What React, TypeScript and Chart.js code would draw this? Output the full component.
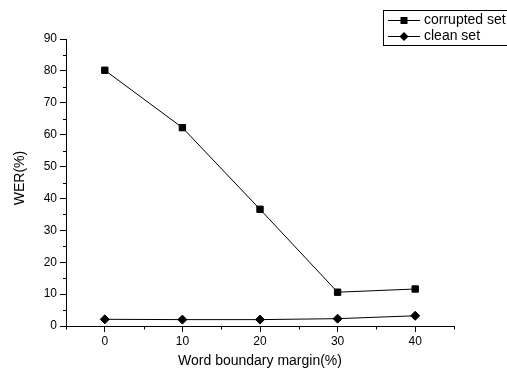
import React, { useEffect, useRef } from "react";
import { Chart, registerables } from "chart.js";

Chart.register(...registerables);

const margins = [0, 10, 20, 30, 40];
const corruptedSet = [80.2, 62.2, 36.6, 10.6, 11.6];
const cleanSet = [2.1, 2.0, 2.0, 2.3, 3.2];
const seriesLabels = ["corrupted set", "clean set"];
const xTickLabels = ["0", "10", "20", "30", "40"];
const yTickLabels = ["0", "10", "20", "30", "40", "50", "60", "70", "80", "90"];
const xTitle = "Word boundary margin(%)";
const yTitle = "WER(%)";

const FONT = "Arial, 'Liberation Sans', Helvetica, sans-serif";

const isMinor = (v: number) => Math.round(v) % 10 !== 0;

const extrasPlugin = {
  id: "extras",
  afterDraw(chart: any) {
    const ctx = chart.ctx;
    ctx.save();
    // minor ticks
    ctx.strokeStyle = "#000";
    ctx.lineWidth = 1;
    const xs = chart.scales.x;
    const ys = chart.scales.y;
    ctx.beginPath();
    for (const t of xs.ticks) {
      if (!isMinor(t.value)) continue;
      const px = Math.round(xs.getPixelForValue(t.value)) + 0.5;
      ctx.moveTo(px, ys.bottom);
      ctx.lineTo(px, ys.bottom + 3.5);
    }
    for (const t of ys.ticks) {
      if (!isMinor(t.value)) continue;
      const py = Math.round(ys.getPixelForValue(t.value)) + 0.5;
      ctx.moveTo(xs.left, py);
      ctx.lineTo(xs.left - 3, py);
    }
    ctx.stroke();

    // y title
    ctx.fillStyle = "#000";
    ctx.font = `14px ${FONT}`;
    ctx.textAlign = "center";
    ctx.textBaseline = "middle";
    ctx.save();
    ctx.translate(20, 178);
    ctx.rotate(-Math.PI / 2);
    ctx.fillText(yTitle, 0, 0);
    ctx.restore();

    // legend
    ctx.strokeStyle = "#000";
    ctx.lineWidth = 1;
    ctx.strokeRect(383.5, 10.5, 140, 35);
    chart.data.datasets.forEach((ds: any, i: number) => {
      const y = 20.5 + i * 16;
      ctx.beginPath();
      ctx.moveTo(388, y);
      ctx.lineTo(420, y);
      ctx.strokeStyle = "#000";
      ctx.lineWidth = 1;
      ctx.stroke();
      ctx.fillStyle = "#000";
      ctx.beginPath();
      if (ds.pointStyle === "rect") {
        ctx.rect(400.5, y - 3.5, 7, 7);
      } else {
        ctx.moveTo(399.5, y);
        ctx.lineTo(404, y - 4.5);
        ctx.lineTo(408.5, y);
        ctx.lineTo(404, y + 4.5);
        ctx.closePath();
      }
      ctx.fill();
      ctx.font = `14px ${FONT}`;
      ctx.textBaseline = "middle";
      ctx.textAlign = "left";
      ctx.fillText(ds.label, 424, y);
    });
    ctx.restore();
  },
};

const tickColor = (c: any) =>
  c.tick && isMinor(c.tick.value) ? "rgba(0,0,0,0)" : "#000";

export default function App() {
  const ref = useRef<HTMLCanvasElement | null>(null);
  useEffect(() => {
    document.body.style.margin = "0";
    const canvas = ref.current;
    if (!canvas) return;
    const chart = new Chart(canvas, {
      type: "line",
      data: {
        datasets: [
          {
            label: seriesLabels[0],
            data: margins.map((m, i) => ({ x: m, y: corruptedSet[i] })),
            borderColor: "#000",
            backgroundColor: "#000",
            borderWidth: 1,
            pointStyle: "rect",
            pointRadius: 4.5,
            pointBorderWidth: 1,
            pointBackgroundColor: "#000",
            pointBorderColor: "#000",
            tension: 0,
          },
          {
            label: seriesLabels[1],
            data: margins.map((m, i) => ({ x: m, y: cleanSet[i] })),
            borderColor: "#000",
            backgroundColor: "#000",
            borderWidth: 1,
            pointStyle: "rectRot",
            pointRadius: 4.5,
            pointBorderWidth: 1,
            pointBackgroundColor: "#000",
            pointBorderColor: "#000",
            tension: 0,
          },
        ],
      },
      options: {
        animation: false,
        responsive: false,
        maintainAspectRatio: false,
        layout: { padding: { top: 39, right: 53, left: 0, bottom: 0 } },
        plugins: {
          legend: { display: false },
          tooltip: { enabled: false },
        },
        scales: {
          x: {
            type: "linear",
            min: -5,
            max: 45,
            afterFit(scale: any) {
              scale.height = 46;
            },
            afterBuildTicks(scale: any) {
              const t = [];
              for (let v = -5; v <= 45; v += 5) t.push({ value: v });
              scale.ticks = t;
            },
            border: { display: true, color: "#000", width: 1 },
            grid: {
              drawOnChartArea: false,
              drawTicks: true,
              tickLength: 6,
              tickColor,
              color: "#000",
            },
            ticks: {
              autoSkip: false,
              maxRotation: 0,
              color: "#000",
              font: { family: FONT, size: 12 },
              padding: 2,
              callback: (v: any) => {
                const idx = margins.indexOf(Number(v));
                return idx >= 0 ? xTickLabels[idx] : "";
              },
            },
            title: {
              display: true,
              text: xTitle,
              color: "#000",
              font: { family: FONT, size: 14 },
              padding: { top: 0, bottom: 2 },
            },
          },
          y: {
            type: "linear",
            min: 0,
            max: 90,
            afterFit(scale: any) {
              scale.width = 66;
            },
            afterBuildTicks(scale: any) {
              const t = [];
              for (let v = 0; v <= 90; v += 5) t.push({ value: v });
              scale.ticks = t;
            },
            border: { display: true, color: "#000", width: 1 },
            grid: {
              drawOnChartArea: false,
              drawTicks: true,
              tickLength: 6,
              tickColor,
              color: "#000",
            },
            ticks: {
              autoSkip: false,
              color: "#000",
              font: { family: FONT, size: 12 },
              padding: 3,
              callback: (v: any) => {
                const n = Number(v);
                return n % 10 === 0 ? yTickLabels[n / 10] : "";
              },
            },
            title: { display: false },
          },
        },
      },
      plugins: [extrasPlugin],
    } as any);
    return () => chart.destroy();
  }, []);
  return (
    <div style={{ position: "absolute", left: 0, top: 0, width: 507, height: 372 }}>
      <canvas ref={ref} width={507} height={372} style={{ width: 507, height: 372, display: "block" }} />
    </div>
  );
}
